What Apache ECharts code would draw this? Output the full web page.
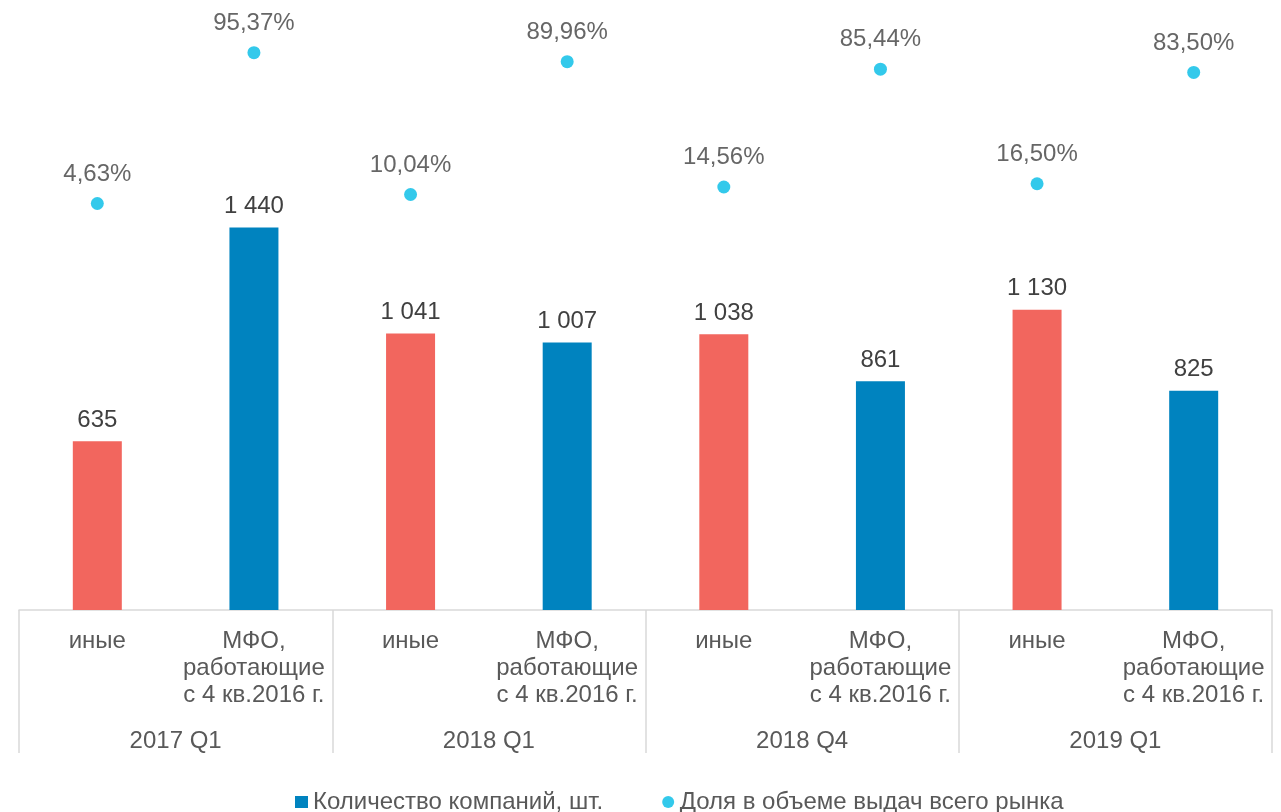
<!DOCTYPE html>
<html>
<head>
<meta charset="utf-8">
<script src="https://cdn.jsdelivr.net/npm/echarts@6/dist/echarts.min.js"></script>
<style>
  html, body { margin: 0; padding: 0; background: #fff; }
  #chart { width: 1281px; height: 812px; }
</style>
</head>
<body>
<div id="chart"></div>
<script>
// данные
const quarters = ['2017 Q1', '2018 Q1', '2018 Q4', '2019 Q1']
const companyTypes = ['иные', 'МФО,\nработающие\nс 4 кв.2016 г.']
const companyCount = [635, 1440, 1041, 1007, 1038, 861, 1130, 825]
const marketShare = [4.63, 95.37, 10.04, 89.96, 14.56, 85.44, 16.50, 83.50]

const RED = '#F2665E'
const BLUE = '#0083BF'
const CYAN = '#00BBE6'
const FONT = '"Liberation Sans", Arial, sans-serif'

// 8 категорий: тип компании внутри каждого квартала
const categories = []
quarters.forEach(() => companyTypes.forEach(t => categories.push(t)))

const fmtCount = v => String(v).replace(/\B(?=(\d{3})+(?!\d))/g, ' ')
const fmtShare = v => v.toFixed(2).replace('.', ',') + '%'

const chart = echarts.init(document.getElementById('chart'))

const option = {
  animation: false,
  textStyle: { fontFamily: FONT },
  grid: { left: 19, right: 9, top: 45, bottom: 202, outerBoundsMode: 'none' },
  xAxis: [
    {
      type: 'category',
      position: 'bottom',
      data: categories,
      axisLine: { onZero: false, lineStyle: { color: '#D9D9D9', width: 1.5 } },
      axisTick: { show: false },
      axisLabel: {
        interval: 0,
        color: '#595959',
        fontSize: 24,
        lineHeight: 27,
        margin: 18
      }
    },
    {
      // нижний уровень: кварталы и разделители групп
      type: 'category',
      position: 'bottom',
      offset: 143,
      data: quarters,
      axisLine: { show: false, onZero: false },
      axisTick: {
        show: true,
        inside: true,
        interval: 0,
        length: 143,
        lineStyle: { color: '#D9D9D9', width: 1.5 }
      },
      axisLabel: {
        inside: true,
        interval: 0,
        color: '#595959',
        fontSize: 24,
        lineHeight: 27,
        margin: -2
      }
    }
  ],
  yAxis: [
    { type: 'value', min: 0, max: 2127, show: false, splitLine: { show: false } },
    { type: 'value', min: -240, max: 100, show: false, splitLine: { show: false } }
  ],
  legend: {
    left: 290,
    top: 785,
    itemGap: 59,
    itemWidth: 13,
    itemHeight: 12,
    textStyle: { color: '#595959', fontSize: 24, fontFamily: FONT },
    data: [
      { name: 'Количество компаний, шт.', icon: 'rect' },
      { name: 'Доля в объеме выдач всего рынка', icon: 'circle' }
    ]
  },
  series: [
    {
      name: 'Количество компаний, шт.',
      type: 'bar',
      xAxisIndex: 0,
      yAxisIndex: 0,
      barWidth: 49,
      itemStyle: { color: BLUE },
      data: companyCount.map((v, i) => ({
        value: v,
        itemStyle: { color: i % 2 === 0 ? RED : BLUE }
      })),
      label: {
        show: true,
        position: 'top',
        distance: 9,
        color: '#404040',
        fontSize: 24,
        formatter: p => fmtCount(p.value)
      }
    },
    {
      name: 'Доля в объеме выдач всего рынка',
      type: 'scatter',
      xAxisIndex: 0,
      yAxisIndex: 1,
      symbol: 'circle',
      symbolSize: 13,
      itemStyle: { color: CYAN },
      data: marketShare,
      label: {
        show: true,
        position: 'top',
        distance: 11,
        color: '#404040',
        fontSize: 24,
        formatter: p => fmtShare(p.value)
      }
    }
  ]
}

chart.setOption(option)
window.addEventListener('resize', () => chart.resize())
</script>
</body>
</html>
